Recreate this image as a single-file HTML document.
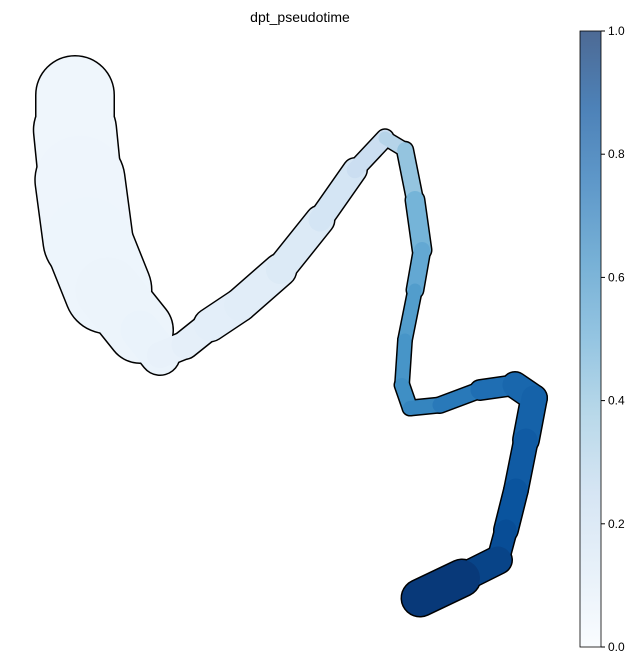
<!DOCTYPE html>
<html><head><meta charset="utf-8"><style>
body{margin:0;background:#fff;}
svg text{font-family:"Liberation Sans",sans-serif;}
</style></head><body>
<svg id="chart" width="642" height="664" viewBox="0 0 642 664">
<text x="300" y="22" font-size="14" text-anchor="middle">dpt_pseudotime</text>
<g id="outline"></g>
<g id="fill"></g>
<defs>
<linearGradient id="cbg" x1="0" y1="1" x2="0" y2="0">
<stop offset="0" stop-color="#f7fbff"/><stop offset="0.125" stop-color="#deebf7"/><stop offset="0.25" stop-color="#c6dbef"/><stop offset="0.375" stop-color="#9ecae1"/><stop offset="0.5" stop-color="#6baed6"/><stop offset="0.625" stop-color="#4292c6"/><stop offset="0.75" stop-color="#2171b5"/><stop offset="0.875" stop-color="#08519c"/><stop offset="1" stop-color="#08306b"/>
</linearGradient></defs>
<g>
<rect x="580" y="31" width="21" height="616" fill="url(#cbg)" opacity="0.72"/>
<rect x="580" y="31" width="21" height="616" fill="none" stroke="#000" stroke-width="0.8"/>
<g id="cbticks"></g>
</g>
</svg>
<script>
const xs=[75,75,80,88,108,140,160,185,210,240,280,320,355,385,405,415,422,415,405,402,410,440,480,515,534,526,516,506,498,462,420];
const ys=[95,130,180,240,290,330,355,345,325,305,270,220,170,138,150,200,250,290,340,385,408,405,390,385,398,440,490,530,560,578,598];
const ws=[76,78,85,92,80,50,28,24,30,34,30,26,20,13,13,18,18,14,12,14,14,14,16,22,28,22,24,22,20,34,38];
const vals=[0.04,0.04,0.04,0.05,0.05,0.06,0.07,0.08,0.1,0.1,0.12,0.15,0.2,0.25,0.35,0.45,0.5,0.55,0.6,0.62,0.65,0.7,0.74,0.78,0.8,0.82,0.85,0.88,0.9,0.95,0.98];
const cbTickVals=[0,0.2,0.4,0.6,0.8,1.0];
const cbTickLabels=["0.0","0.2","0.4","0.6","0.8","1.0"];
const stops=[[247,251,255],[222,235,247],[198,219,239],[158,202,225],[107,174,214],[66,146,198],[33,113,181],[8,81,156],[8,48,107]];
function blues(v){v=Math.max(0,Math.min(1,v));const t=v*8,i=Math.min(7,Math.floor(t)),f=t-i;const a=stops[i],b=stops[i+1];return `rgb(${a.map((c,k)=>Math.round(c+(b[k]-c)*f)).join(',')})`;}
const NS="http://www.w3.org/2000/svg";
const ol=document.getElementById('outline'),fl=document.getElementById('fill');
for(let i=0;i<xs.length-1;i++){
  const w=(ws[i]+ws[i+1])/2;
  const o=document.createElementNS(NS,'line');
  o.setAttribute('x1',xs[i]);o.setAttribute('y1',ys[i]);o.setAttribute('x2',xs[i+1]);o.setAttribute('y2',ys[i+1]);
  o.setAttribute('stroke','#000');o.setAttribute('stroke-width',w+3);o.setAttribute('stroke-linecap','round');
  
  
  ol.appendChild(o);
  const l=document.createElementNS(NS,'line');
  l.setAttribute('x1',xs[i]);l.setAttribute('y1',ys[i]);l.setAttribute('x2',xs[i+1]);l.setAttribute('y2',ys[i+1]);
  l.setAttribute('stroke',blues((vals[i]+vals[i+1])/2));l.setAttribute('stroke-width',w);l.setAttribute('stroke-linecap','round');
  
  
  fl.appendChild(l);
}
const tk=document.getElementById('cbticks');
cbTickVals.forEach((v,i)=>{
  const y=647-v*616;
  const t=document.createElementNS(NS,'line');
  t.setAttribute('x1',601);t.setAttribute('x2',605);t.setAttribute('y1',y);t.setAttribute('y2',y);t.setAttribute('stroke','#000');
  
  
  tk.appendChild(t);
  const tx=document.createElementNS(NS,'text');
  tx.setAttribute('x',608);tx.setAttribute('y',y+4);tx.setAttribute('font-size','12');tx.textContent=cbTickLabels[i];
  
  
  tk.appendChild(tx);
});
</script>
</body></html>
